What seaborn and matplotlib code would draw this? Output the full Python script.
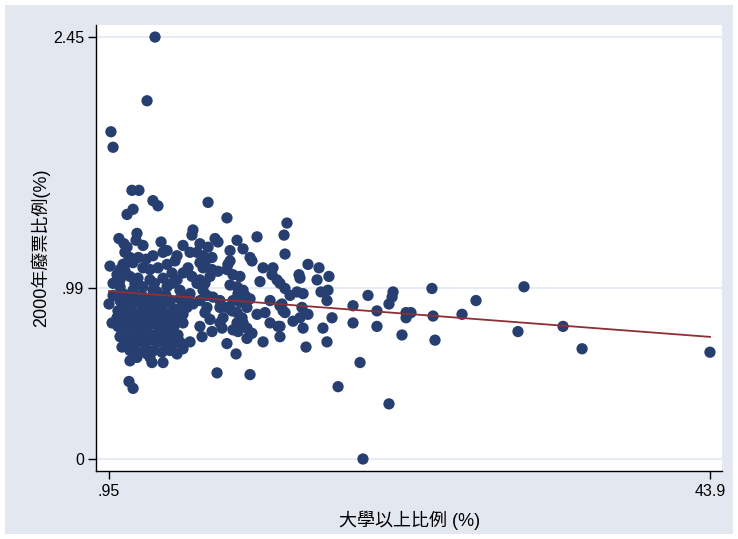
# Scatter of 2000 invalid-ballot share vs. college share, with linear fit
import pandas as pd
import seaborn as sns
import matplotlib.pyplot as plt
from matplotlib.patches import Rectangle

# Data
# outlying / sparse points
far_x = [4.24, 3.67, 1.09, 1.24, 2.59, 3.09, 4.09, 4.45, 2.67, 2.24, 8.03, 9.38, 13.67, 13.46, 13.53,
         2.38, 2.67, 8.67, 11.03, 18.89, 17.32, 20.96, 19.10]
far_y = [2.45, 2.08, 1.90, 1.81, 1.56, 1.56, 1.50, 1.47, 1.45, 1.42, 1.49, 1.40, 1.37, 1.30, 1.19,
         0.45, 0.41, 0.50, 0.49, 0.56, 0.42, 0.32, 0.00]

# right tail
tail_x = [15.17, 15.96, 14.53, 14.60, 15.82, 16.67, 16.10, 16.60, 16.53, 14.74, 15.17, 15.03, 16.24,
          16.89, 16.53, 18.39, 18.39, 19.46, 20.10, 20.10, 21.25, 21.18, 20.96, 21.89, 22.18, 22.53,
          22.18, 24.03, 24.11, 24.25, 26.18, 27.18, 30.61, 30.18, 33.40, 34.76, 43.90]
tail_y = [1.13, 1.11, 1.07, 1.05, 1.04, 1.06, 0.97, 0.98, 0.92, 0.88, 0.84, 0.65, 0.76,
          0.82, 0.68, 0.89, 0.79, 0.95, 0.86, 0.77, 0.97, 0.94, 0.90, 0.72, 0.85, 0.85,
          0.82, 0.99, 0.83, 0.69, 0.84, 0.92, 1.00, 0.74, 0.77, 0.64, 0.62]

# middle band
mid_x = [11.53, 6.95, 6.88, 6.24, 7.45, 8.53, 8.74, 10.10, 8.03, 9.60, 10.53, 11.03, 11.17, 6.74,
         7.24, 7.67, 8.31, 9.60, 9.45, 6.60, 7.45, 7.81, 8.31, 8.74, 11.96, 12.67, 12.60, 12.96,
         13.17, 13.53, 9.38, 9.81, 10.31, 11.74, 7.45, 7.81, 7.67, 7.95, 9.60, 10.10, 10.53, 10.17,
         10.67, 6.24, 6.60, 6.95, 8.38, 8.88, 6.17, 6.52, 9.81, 10.31, 11.03, 12.46, 13.17, 13.39,
         13.89, 14.39, 14.82, 7.95, 7.81, 8.17, 8.88, 9.38, 9.74, 10.81, 6.24, 6.24, 10.10, 10.46,
         10.53, 10.10, 9.10, 11.53, 12.10, 12.46, 13.03, 14.60, 14.10, 14.82, 8.88, 9.03, 7.45,
         8.31, 9.81, 10.17, 10.81, 11.17, 7.60, 10.81, 6.74, 6.24, 9.38, 11.96, 10.03, 13.31,
         13.53, 13.17, 13.17, 7.67, 8.17, 6.88, 7.24, 6.02, 6.74, 6.02, 7.45, 6.02, 5.45, 5.81,
         6.24, 5.81, 5.45]
mid_y = [1.29, 1.33, 1.30, 1.24, 1.25, 1.28, 1.26, 1.27, 1.23, 1.21, 1.22, 1.17, 1.15, 1.20,
         1.20, 1.18, 1.17, 1.15, 1.13, 1.11, 1.14, 1.14, 1.10, 1.09, 1.11, 1.11, 1.07, 1.04,
         1.02, 0.99, 1.10, 1.07, 1.06, 1.03, 1.04, 1.02, 0.98, 0.95, 1.01, 1.00, 0.98, 0.96,
         0.95, 0.95, 0.92, 0.90, 0.94, 0.92, 0.89, 0.88, 0.92, 0.91, 0.93, 0.92, 0.89, 0.86,
         0.95, 0.97, 0.96, 0.88, 0.85, 0.81, 0.88, 0.88, 0.86, 0.88, 0.84, 0.79, 0.85, 0.82,
         0.79, 0.79, 0.82, 0.84, 0.85, 0.79, 0.77, 0.82, 0.80, 0.76, 0.79, 0.76, 0.77,
         0.74, 0.75, 0.74, 0.76, 0.73, 0.71, 0.70, 0.68, 0.64, 0.67, 0.68, 0.61, 0.90,
         0.85, 0.77, 0.71, 1.11, 1.06, 1.06, 1.02, 0.98, 0.96, 0.93, 0.92, 0.68, 0.65, 0.61,
         1.08, 1.04, 1.08]

# left cluster, upper part
left_x = [2.95, 2.88, 3.38, 1.66, 2.02, 2.24, 4.67, 4.09, 4.81, 5.10, 5.81, 5.67, 2.09, 2.45,
          2.24, 1.02, 1.74, 2.67, 3.38, 3.88, 4.45, 5.10, 2.45, 1.74, 3.02, 3.88, 4.81, 1.74,
          1.24, 1.95, 2.67, 3.38, 4.09, 5.10, 0.95, 1.74, 2.45, 3.17, 3.88, 4.60, 5.31, 1.24,
          1.52, 1.17, 1.52, 2.10, 3.60, 4.20, 2.80, 3.05, 1.95, 5.45, 4.40]
left_y = [1.31, 1.27, 1.24, 1.28, 1.25, 1.23, 1.26, 1.18, 1.20, 1.21, 1.18, 1.15, 1.20, 1.17,
          1.14, 1.12, 1.10, 1.14, 1.11, 1.10, 1.11, 1.13, 1.06, 1.04, 1.05, 1.04, 1.05, 1.00,
          0.95, 0.96, 0.98, 1.00, 0.98, 1.00, 0.90, 0.92, 0.92, 0.94, 0.93, 0.94, 0.92, 1.02,
          1.07, 0.79, 0.82, 1.09, 1.16, 1.02, 1.02, 1.17, 1.13, 1.02, 0.97]

# dense core of the cluster
core_x = [1.59, 2.17, 2.74, 3.31, 3.88, 4.45, 5.02, 5.60,
          1.88, 2.45, 3.02, 3.60, 4.17, 4.74, 5.31, 5.88,
          1.59, 2.17, 2.74, 3.31, 3.88, 4.45, 5.02, 5.60,
          1.88, 2.45, 3.02, 3.60, 4.17, 4.74, 5.31, 5.88,
          2.17, 2.74, 3.31, 3.88, 4.45, 5.02, 5.60,
          2.45, 3.02, 3.60, 4.17, 4.74, 5.31,
          1.74, 1.88, 2.45, 4.02, 4.81, 3.67, 2.95, 3.88]
core_y = [0.86, 0.87, 0.85, 0.86, 0.87, 0.86, 0.85, 0.87,
          0.82, 0.81, 0.82, 0.83, 0.81, 0.82, 0.82, 0.81,
          0.77, 0.78, 0.76, 0.77, 0.78, 0.77, 0.76, 0.77,
          0.73, 0.72, 0.74, 0.73, 0.72, 0.73, 0.74, 0.72,
          0.68, 0.67, 0.68, 0.69, 0.68, 0.67, 0.68,
          0.63, 0.62, 0.64, 0.63, 0.62, 0.63,
          0.71, 0.65, 0.57, 0.56, 0.56, 0.61, 0.59, 0.59]

# extra points packed inside the core
fill_x = [1.88, 2.45, 3.02, 3.60, 4.17, 4.74, 5.31,
          2.17, 2.74, 3.31, 4.45, 5.02,
          2.17, 2.74, 3.31, 3.88, 4.45, 5.02, 5.60,
          2.02, 2.60, 3.17, 3.74, 4.31, 4.88, 5.45,
          2.31, 2.88, 3.45, 4.02, 4.60, 5.17]
fill_y = [0.90, 0.89, 0.91, 0.90, 0.89, 0.90, 0.91,
          0.95, 0.94, 0.95, 0.94, 0.95,
          0.84, 0.83, 0.84, 0.84, 0.83, 0.84, 0.83,
          0.795, 0.80, 0.79, 0.80, 0.795, 0.80, 0.79,
          0.70, 0.705, 0.70, 0.71, 0.70, 0.705]

df = pd.concat([
    pd.DataFrame({"college": far_x, "invalid": far_y}),
    pd.DataFrame({"college": tail_x, "invalid": tail_y}),
    pd.DataFrame({"college": mid_x, "invalid": mid_y}),
    pd.DataFrame({"college": left_x, "invalid": left_y}),
    pd.DataFrame({"college": core_x, "invalid": core_y}),
    pd.DataFrame({"college": fill_x, "invalid": fill_y}),
], ignore_index=True)

navy = "#263e70"
maroon = "#8e2f35"
grid_c = "#e3e8f1"

plt.rcParams['font.family'] = ['Liberation Sans', 'Noto Sans CJK TC']

fig = plt.figure(figsize=(7.38, 5.39), dpi=100, facecolor="white")
bg = Rectangle((5 / 738, 5 / 539), 728 / 738, 529 / 539,
               transform=fig.transFigure, facecolor="#e2e7f0",
               edgecolor="none", zorder=-10)
fig.add_artist(bg)
ax = fig.add_axes([96.5 / 738, 68 / 539, 625.5 / 738, 446 / 539])
ax.set_facecolor("white")

for yv in [0, 0.99, 2.45]:
    ax.axhline(yv, color=grid_c, lw=1.2, zorder=0)

sns.scatterplot(data=df, x="college", y="invalid", ax=ax, color=navy,
                s=66, edgecolor="none", linewidth=0, zorder=3)
sns.regplot(data=df, x="college", y="invalid", ax=ax, scatter=False, ci=None,
            truncate=True, line_kws={"color": maroon, "lw": 1.3, "zorder": 4})

ax.set_xlim(0.057, 44.76)
ax.set_ylim(-0.0697, 2.52)
ax.set_xticks([0.95, 43.9])
ax.set_xticklabels([".95", "43.9"])
ax.set_yticks([0, 0.99, 2.45])
ax.set_yticklabels(["0", ".99", "2.45"])
ax.tick_params(axis="both", direction="out", length=6, width=1, color="black",
               labelsize=11.5, pad=3)

for side in ["top", "right"]:
    ax.spines[side].set_visible(False)
for side in ["left", "bottom"]:
    ax.spines[side].set_color("black")
    ax.spines[side].set_linewidth(1)

ax.set_xlabel("大學以上比例 (%)", fontsize=13, labelpad=9)
ax.set_ylabel("2000年廢票比例(%)", fontsize=13, labelpad=2)

fig.savefig("out.png", dpi=100, facecolor="white")
